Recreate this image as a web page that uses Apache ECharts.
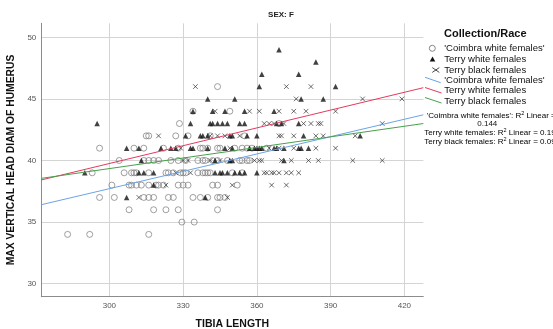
<!DOCTYPE html>
<html>
<head>
<meta charset="utf-8">
<script src="https://cdn.jsdelivr.net/npm/echarts@6/dist/echarts.min.js"></script>
<style>html,body{margin:0;padding:0;background:#fff}#c{width:553px;height:329px}</style>
</head>
<body>
<div id="c"></div>
<script>
// ---- data (tibia length, max vertical head diam of humerus) ----
const coimbraWhite = [
  [344,46],
  [334,44],[349,44],
  [328.5,43],[369,43],
  [315,42],[316,42],[327,42],[332,42],[341,42],[355,42],
  [296,41],[310,41],[314,41],[322,41],[328,41],[337,41],[338,41],[340,41],[344,41],[345,41],[351,41],[354,41],[356,41],[358,41],[364,41],
  [304,40],[314,40],[316,40],[318,40],[320,40],[325,40],[328,40],[331,40],[336,40],[338,40],[339,40],[342,40],[344,40],[348,40],[353,40],[354,40],[356,40],[357,40],
  [293,39],[306,39],[309,39],[310,39],[311,39],[316,39],[323,39],[324,39],[326,39],[329,39],[330,39],[331,39],[336,39],[338,39],[339,39],[340,39],[341,39],[350,39],[354,39],
  [301,38],[308,38],[309,38],[311,38],[313,38],[316,38],[319,38],[320,38],[322,38],[328,38],[330,38],[332,38],[342,38],[344,38],[352,38],
  [296,37],[302,37],[314,37],[316,37],[318,37],[324,37],[326,37],[334,37],[337,37],[340,37],[344,37],[345,37],[347,37],
  [308,36],[318,36],[323,36],[328,36],[344,36],
  [329.5,35],[334.5,35],
  [283,34],[292,34],[316,34]
];
const terryWhite = [
  [369,49],
  [384,48],
  [362,47],[377,47],
  [361,46],[392,46],
  [340,45],[351,45],[378,45],[387,45],
  [334,44],[342,44],[347,44],[355,44],[367,44],
  [295,43],[333,43],[341,43],[342,43],[344,43],[346,43],[348,43],[353,43],[355,43],[368,43],[370,43],[377,43],
  [331,42],[337,42],[338,42],[340,42],[349,42],[350,42],[356,42],[360,42],[379,42],[402,42],
  [307,41],[312,41],[321,41],[325,41],[327,41],[333,41],[334,41],[340,41],[347,41],[350,41],[357,41],[359,41],[360,41],[361,41],[362,41],[367,41],[368,41],[371,41],[377,41],[378,41],[381,41],
  [313,40],[343,40],[349,40],[350,40],[371,40],
  [290,39],[312,39],[314,39],[318,39],[343,39],[345,39],[346,39],[348,39],[351,39],[353,39],[355,39],[360,39],
  [318,38],
  [307,37],[339,37]
];
const terryBlack = [
  [335,46],[372,46],[382,46],
  [376,45],[403,45],[419,45],
  [343,44],[357,44],[361,44],[369,44],[375,44],[380,44],[392,44],
  [363,43],[365,43],[367,43],[371,43],[379,43],[382,43],[385,43],[386,43],[411,43],
  [320,42],[341,42],[344,42],[347,42],[353,42],[369,42],[370,42],[375,42],[384,42],[387,42],[400,42],
  [329,41],[349,41],[365,41],[369,41],[375,41],[384,41],[392,41],
  [330,40],[332,40],[341,40],[345,40],[359,40],[361,40],[362,40],[370,40],[374,40],[381,40],[385,40],[399,40],[411,40],
  [327,39],[333,39],[363,39],[364,39],[366,39],[367,39],[369,39],[372,39],[374,39],[377,39],
  [323,38],[350,38],[366,38],[372,38],
  [312,37],[348,37]
];
// fit lines (endpoints)
const fitCoimbra = [[272.3,36.41],[427.7,43.71]];
const fitTerryWhite = [[272.3,38.42],[427.7,45.91]];
const fitTerryBlack = [[272.3,38.55],[427.7,43.0]];
// tick labels
const xTicks = [300,330,360,390,420];
const yTicks = [30,35,40,45,50];
const legendNames = ["'Coimbra white females'","Terry white females","Terry black females"];
const r2Texts = ["0.144","0.19","0.09"];

const FF = 'Liberation Sans, Arial, sans-serif';
const COL_BLUE = '#6aa4e6', COL_RED = '#e6395f', COL_GREEN = '#47a04c';
const CROSS = 'path://M0,0L10,10M10,0L0,10';

const chart = echarts.init(document.getElementById('c'), null, {renderer:'canvas'});
const axisLabelStyle = {color:'#555', fontSize:8, fontFamily:FF};
const richR2 = {a:{fontSize:8, fontFamily:FF, color:'#111'}, s:{fontSize:5.5, fontFamily:FF, color:'#111', verticalAlign:'top', padding:[0,0,4,0]}};
const option = {
  animation:false,
  backgroundColor:'#fff',
  grid:{left:41.3, right:129.7, top:23.3, bottom:32.3, containLabel:false, outerBoundsMode:'none'},
  xAxis:{
    type:'value', min:272.3, max:427.7,
    name:'TIBIA LENGTH', nameLocation:'middle', nameGap:22,
    nameTextStyle:{fontFamily:FF, fontWeight:'bold', fontSize:10.5, color:'#111'},
    axisLine:{show:true, lineStyle:{color:'#8c8c8c', width:1}},
    axisTick:{show:false, customValues:xTicks},
    axisLabel:Object.assign({margin:5, customValues:xTicks}, axisLabelStyle),
    splitLine:{show:true, lineStyle:{color:'#d4d4d4', width:1}}
  },
  yAxis:{
    type:'value', min:28.94, max:51.14,
    name:'MAX VERTICAL HEAD DIAM OF HUMERUS', nameLocation:'middle', nameGap:24, nameRotate:90,
    nameTextStyle:{fontFamily:FF, fontWeight:'bold', fontSize:10.3, color:'#111'},
    axisLine:{show:true, lineStyle:{color:'#8c8c8c', width:1}},
    axisTick:{show:false, customValues:yTicks},
    axisLabel:Object.assign({margin:5, customValues:yTicks}, axisLabelStyle),
    splitLine:{show:true, lineStyle:{color:'#d4d4d4', width:1}}
  },
  series:[
    {type:'scatter', name:legendNames[0], data:coimbraWhite, symbol:'circle', symbolSize:6, silent:true,
      itemStyle:{color:'rgba(0,0,0,0)', borderColor:'#7a7a7a', borderWidth:0.9}},
    {type:'scatter', name:legendNames[1], data:terryWhite, symbol:'triangle', symbolSize:5.5, silent:true,
      itemStyle:{color:'#111'}},
    {type:'scatter', name:legendNames[2], data:terryBlack, symbol:CROSS, symbolSize:4.6, silent:true,
      itemStyle:{color:'none', borderColor:'#333', borderWidth:0.9}},
    {type:'line', data:fitCoimbra, showSymbol:false, silent:true, lineStyle:{color:COL_BLUE, width:1}},
    {type:'line', data:fitTerryWhite, showSymbol:false, silent:true, lineStyle:{color:COL_RED, width:1}},
    {type:'line', data:fitTerryBlack, showSymbol:false, silent:true, lineStyle:{color:COL_GREEN, width:1}}
  ],
  graphic:[
    {type:'text', x:281, y:15, style:{text:'SEX: F', font:'bold 8px '+FF, fill:'#222', align:'center', verticalAlign:'middle'}},
    {type:'text', x:444, y:33.5, style:{text:'Collection/Race', font:'bold 11px '+FF, fill:'#111', verticalAlign:'middle'}},
    {type:'circle', shape:{cx:432.3, cy:48.3, r:3}, style:{fill:'none', stroke:'#7a7a7a', lineWidth:0.9}},
    {type:'polygon', shape:{points:[[432.5,56.6],[435.3,61.6],[429.7,61.6]]}, style:{fill:'#111'}},
    {type:'polyline', shape:{points:[[432.3,67.6],[439.3,72.4]]}, style:{stroke:'#333', lineWidth:0.9}},
    {type:'polyline', shape:{points:[[432.3,72.4],[439.3,67.6]]}, style:{stroke:'#333', lineWidth:0.9}},
    {type:'polyline', shape:{points:[[425,77.3],[440.7,82.7]]}, style:{stroke:COL_BLUE, lineWidth:1}},
    {type:'polyline', shape:{points:[[425,87.5],[441.5,93]]}, style:{stroke:COL_RED, lineWidth:1}},
    {type:'polyline', shape:{points:[[425,97.5],[441.5,103]]}, style:{stroke:COL_GREEN, lineWidth:1}},
    {type:'text', x:444.3, y:48.5, style:{text:legendNames[0], font:'9.5px '+FF, fill:'#111', verticalAlign:'middle'}},
    {type:'text', x:444.3, y:59.5, style:{text:legendNames[1], font:'9.5px '+FF, fill:'#111', verticalAlign:'middle'}},
    {type:'text', x:444.3, y:70.2, style:{text:legendNames[2], font:'9.5px '+FF, fill:'#111', verticalAlign:'middle'}},
    {type:'text', x:444.3, y:80.5, style:{text:legendNames[0], font:'9.5px '+FF, fill:'#111', verticalAlign:'middle'}},
    {type:'text', x:444.3, y:90.8, style:{text:legendNames[1], font:'9.5px '+FF, fill:'#111', verticalAlign:'middle'}},
    {type:'text', x:444.3, y:101, style:{text:legendNames[2], font:'9.5px '+FF, fill:'#111', verticalAlign:'middle'}},
    {type:'text', x:426.7, y:115.7, style:{text:'{a|'+legendNames[0]+': R}{s|2}{a| Linear =}', verticalAlign:'middle', rich:richR2}},
    {type:'text', x:487.3, y:123.7, style:{text:r2Texts[0], font:'8px '+FF, fill:'#111', align:'center', verticalAlign:'middle'}},
    {type:'text', x:424.3, y:132.7, style:{text:'{a|'+legendNames[1]+': R}{s|2}{a| Linear = '+r2Texts[1]+'}', verticalAlign:'middle', rich:richR2}},
    {type:'text', x:424.3, y:141.5, style:{text:'{a|'+legendNames[2]+': R}{s|2}{a| Linear = '+r2Texts[2]+'}', verticalAlign:'middle', rich:richR2}}
  ]
};
chart.setOption(option);
</script>
</body>
</html>
